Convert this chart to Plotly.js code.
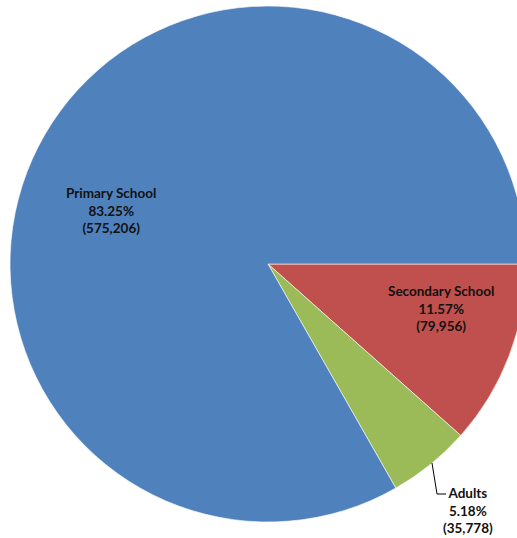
<!DOCTYPE html>
<html>
<head>
<meta charset="utf-8">
<script src="https://cdn.plot.ly/plotly-3.0.1.min.js"></script>
<style>
html, body { margin: 0; padding: 0; overflow: hidden; background: #fff; }
#chart { width: 536px; height: 538px; }
</style>
</head>
<body>
<div id="chart"></div>
<script>
// Data (slice order follows the picture: starting at 3 o'clock, clockwise)
const categories = ["Secondary School", "Adults", "Primary School"];
const values = [79956, 35778, 575206];
const colors = ["#C0504D", "#9BBB59", "#4F81BD"];

const W = 536, H = 538;
const total = values.reduce((a, b) => a + b, 0);
const fmt = v => v.toLocaleString("en-US");
const labelText = i => categories[i] + "<br>" + (values[i] / total * 100).toFixed(2) + "%<br>(" + fmt(values[i]) + ")";

// label placement (pixels) for each category
const labelPos = {
  "Primary School": [111, 210],
  "Secondary School": [441, 308],
  "Adults": [468, 510]
};

const px = x => x / W;
const py = y => (H - y) / H;

const annotations = categories.map((c, i) => ({
  text: labelText(i),
  x: px(labelPos[c][0]), y: py(labelPos[c][1]),
  xref: "paper", yref: "paper",
  xanchor: "center", yanchor: "middle",
  showarrow: false, align: "center",
  font: { family: "Lato, 'Liberation Sans', sans-serif", size: 13.5, color: "#111", weight: "bold" }
}));

const trace = {
  type: "pie",
  labels: categories,
  values: values,
  sort: false,
  direction: "clockwise",
  rotation: 90,
  textinfo: "none",
  hoverinfo: "label+value+percent",
  marker: { colors: colors, line: { color: "#ffffff", width: 0.6 } },
  domain: { x: [10 / W, 526 / W], y: [16 / H, 532 / H] }
};

const layout = {
  width: W, height: H,
  margin: { l: 0, r: 0, t: 0, b: 0 },
  showlegend: false,
  paper_bgcolor: "#fff",
  annotations: annotations,
  shapes: [{
    type: "path", xref: "paper", yref: "paper",
    path: "M " + px(432) + "," + py(463) + " L " + px(437) + "," + py(494) + " L " + px(446) + "," + py(494),
    line: { color: "#000", width: 1 }
  }]
};

Plotly.newPlot("chart", [trace], layout, { staticPlot: true, displayModeBar: false });
</script>
</body>
</html>
